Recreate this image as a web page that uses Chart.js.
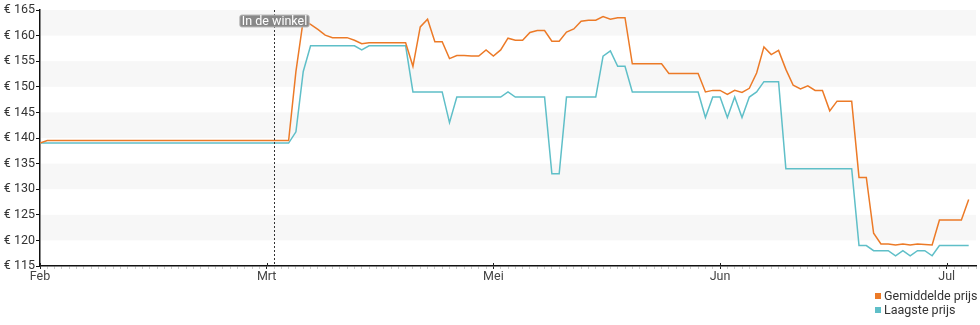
<!DOCTYPE html>
<html>
<head>
<meta charset="utf-8">
<script src="https://cdn.jsdelivr.net/npm/chart.js@4"></script>
<style>
  html, body { margin: 0; padding: 0; background: #fff; }
  #wrap { position: relative; width: 980px; height: 325px; }
  #legend { position: absolute; left: 875px; top: 289px; font: 12.5px Roboto, sans-serif; color: #333; line-height: 14px; }
  #legend .item { display: flex; align-items: center; white-space: nowrap; }
  #legend .sw { width: 6px; height: 6px; margin-right: 3px; }
</style>
</head>
<body>
<div id="wrap">
  <canvas id="chart" width="980" height="325"></canvas>
  <div id="legend"></div>
</div>
<script>
"use strict";

// days since the first tick (Feb)
const monthTicks = [0, 31, 62, 93, 124];
const monthLabels = ["Feb", "Mrt", "Mei", "Jun", "Jul"];
const yTicks = [115, 120, 125, 130, 135, 140, 145, 150, 155, 160, 165];

const avgDays = [0, 1, 34, 35, 36, 37, 38, 39, 40, 42, 43, 44, 45, 50, 51, 52, 53, 54, 55, 56, 57, 58, 59, 60,
  61, 62, 63, 64, 65, 66, 67, 68, 69, 70, 71, 72, 73, 74, 75, 76, 77, 78, 79, 80, 81, 85, 86, 90, 91, 92, 93,
  94, 95, 96, 97, 98, 99, 100, 101, 102, 103, 104, 105, 106, 107, 108, 109, 111, 112, 113, 114, 115, 116, 117,
  118, 119, 120, 121, 122, 123, 126, 127];
const avgPrices = [139, 139.5, 139.5, 153, 163, 162.2, 161.2, 160.1, 159.6, 159.6, 159.1, 158.4, 158.6, 158.6,
  154, 161.7, 163.2, 158.8, 158.8, 155.5, 156.1, 156.1, 156, 156, 157.2, 156, 157.2, 159.5, 159.1, 159.1, 160.6,
  161, 161, 158.9, 158.9, 160.7, 161.3, 162.8, 163, 163, 163.7, 163.2, 163.5, 163.5, 154.5, 154.5, 152.6, 152.6,
  149, 149.3, 149.3, 148.5, 149.3, 148.9, 149.7, 152.7, 157.8, 156.3, 157.1, 153.4, 150.3, 149.6, 150.2, 149.3,
  149.3, 145.3, 147.2, 147.2, 132.3, 132.3, 121.4, 119.3, 119.3, 119.1, 119.3, 119.1, 119.3, 119.2, 119.1,
  124, 124, 128];

const lowDays = [0, 34, 35, 36, 37, 43, 44, 45, 50, 51, 55, 56, 57, 63, 64, 65, 69, 70, 71, 72, 76, 77, 78, 79,
  80, 81, 90, 91, 92, 93, 94, 95, 96, 97, 98, 99, 101, 102, 111, 112, 113, 114, 116, 117, 118, 119, 120, 121,
  122, 123, 127];
const lowPrices = [139, 139, 141.2, 153, 158, 158, 157.2, 158, 158, 149, 149, 143, 148, 148, 149, 148, 148, 133,
  133, 148, 148, 156, 157, 154, 154, 149, 149, 144, 148, 148, 144, 148, 144, 148, 149, 151, 151, 134, 134, 119,
  119, 118, 118, 117, 118, 117, 118, 118, 117, 119, 119];

const storeDay = 32;
const storeLabel = "In de winkel";

const seriesNames = ["Gemiddelde prijs", "Laagste prijs"];
const seriesColors = ["#ec7a27", "#5fbfc8"];

function toPoints(xs, ys) {
  return xs.map((x, i) => ({ x, y: ys[i] }));
}

const bandsPlugin = {
  id: "bands",
  beforeDatasetsDraw(chart) {
    const { ctx, chartArea: a, scales: { y } } = chart;
    ctx.save();
    ctx.fillStyle = "#f7f7f7";
    for (let v = 160; v >= 120; v -= 10) {
      const top = y.getPixelForValue(v + 5);
      const bot = y.getPixelForValue(v);
      ctx.fillRect(a.left + 1, top, a.right - a.left - 1, bot - top);
    }
    ctx.restore();
  },
};

// dotted "in store" line with its label, plus the month ticks that reach into the plot
const markerPlugin = {
  id: "marker",
  afterDatasetsDraw(chart) {
    const { ctx, chartArea: a, scales: { x } } = chart;
    ctx.save();
    ctx.strokeStyle = "#222";
    ctx.lineWidth = 1;
    monthTicks.forEach((d) => {
      const mx = Math.round(x.getPixelForValue(d)) + 0.5;
      ctx.beginPath();
      ctx.moveTo(mx, a.bottom - 3);
      ctx.lineTo(mx, a.bottom);
      ctx.stroke();
    });
    const px = Math.round(x.getPixelForValue(storeDay)) + 0.5;
    ctx.strokeStyle = "#333";
    ctx.setLineDash([2, 2]);
    ctx.beginPath();
    ctx.moveTo(px, a.top);
    ctx.lineTo(px, a.bottom);
    ctx.stroke();
    ctx.setLineDash([]);
    ctx.font = "12.5px Roboto, sans-serif";
    const w = ctx.measureText(storeLabel).width + 4;
    const h = 12;
    const bx = px - w / 2, by = 15;
    ctx.fillStyle = "rgba(130,130,130,0.95)";
    ctx.strokeStyle = "#bbb";
    ctx.beginPath();
    ctx.roundRect(bx, by, w, h, 2);
    ctx.fill();
    ctx.stroke();
    ctx.fillStyle = "#fff";
    ctx.textAlign = "center";
    ctx.textBaseline = "middle";
    ctx.fillText(storeLabel, px, by + h / 2 + 0.5);
    ctx.restore();
  },
};

const legendEl = document.getElementById("legend");
seriesNames.forEach((name, i) => {
  const item = document.createElement("div");
  item.className = "item";
  item.innerHTML = '<span class="sw" style="background:' + seriesColors[i] + '"></span>' + name;
  legendEl.appendChild(item);
});

new Chart(document.getElementById("chart"), {
  type: "line",
  data: {
    datasets: [
      { label: seriesNames[0], data: toPoints(avgDays, avgPrices), borderColor: seriesColors[0] },
      { label: seriesNames[1], data: toPoints(lowDays, lowPrices), borderColor: seriesColors[1] },
    ],
  },
  options: {
    responsive: false,
    animation: false,
    layout: { padding: { top: 10, right: 4, bottom: 39, left: 0 } },
    elements: {
      line: { borderWidth: 1.5, tension: 0, fill: false },
      point: { radius: 0 },
    },
    plugins: { legend: { display: false }, tooltip: { enabled: false } },
    scales: {
      x: {
        type: "linear",
        min: 0,
        max: 128,
        afterBuildTicks(scale) {
          const t = [];
          for (let d = 0; d <= 128; d++) t.push({ value: d });
          scale.ticks = t;
        },
        afterFit(scale) { scale.height = 20; },
        ticks: {
          autoSkip: false,
          maxRotation: 0,
          padding: 0,
          color: "#444",
          font: { family: "Roboto", size: 12.5 },
          callback(v) {
            const i = monthTicks.indexOf(v);
            return i >= 0 ? monthLabels[i] : "";
          },
        },
        grid: {
          drawOnChartArea: false,
          tickLength: 3,
          tickColor: (c) => (monthTicks.includes(c.tick && c.tick.value) ? "#222" : "#ccc"),
        },
        border: { color: "#111", width: 1.5 },
      },
      y: {
        min: 115,
        max: 165,
        afterBuildTicks(scale) {
          scale.ticks = yTicks.map((v) => ({ value: v }));
        },
        afterFit(scale) { scale.width = 40; },
        ticks: {
          padding: 1,
          color: "#333",
          font: { family: "Roboto", size: 12.5 },
          callback: (v) => "€ " + v,
        },
        grid: { drawOnChartArea: false, tickLength: 4, tickColor: "#111" },
        border: { color: "#111", width: 1.5 },
      },
    },
  },
  plugins: [bandsPlugin, markerPlugin],
});
</script>
</body>
</html>
